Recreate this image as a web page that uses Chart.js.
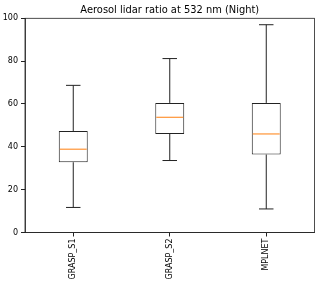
<!DOCTYPE html>
<html lang="en">
<head>
  <meta charset="UTF-8">
  <title>Aerosol lidar ratio at 532 nm (Night)</title>
  <style>
    body { margin: 0; background: #fff; }
  </style>
</head>
<body>
  <canvas id="boxChart" width="320" height="285"></canvas>

  <script src="https://cdn.jsdelivr.net/npm/chart.js"></script>
  <script>
    const categories = ['GRASP_S1', 'GRASP_S2', 'MPLNET'];
    const whiskerLow = [11.7, 33.6, 11.0];
    const q1 = [32.8, 46.0, 36.4];
    const median = [38.9, 53.8, 46.0];
    const q3 = [47.4, 60.5, 60.5];
    const whiskerHigh = [68.7, 81.2, 97.0];
    const yTicks = [0, 20, 40, 60, 80, 100];
    const titleText = 'Aerosol lidar ratio at 532 nm (Night)';

    const font = "'DejaVu Sans', sans-serif";

    // whiskers, caps, medians, frame and a title centred over the axes
    const boxExtras = {
      id: 'boxExtras',
      afterDatasetsDraw(chart) {
        const c = chart.ctx;
        const x = chart.scales.x, y = chart.scales.y;
        const meta = chart.getDatasetMeta(0);
        c.save();
        categories.forEach((cat, i) => {
          const bar = meta.data[i];
          const cx = x.getPixelForValue(i);
          const half = bar.width / 2;
          const cap = half / 2;
          c.strokeStyle = '#222';
          c.lineWidth = 1;
          c.beginPath();
          c.moveTo(cx, y.getPixelForValue(q3[i]));
          c.lineTo(cx, y.getPixelForValue(whiskerHigh[i]));
          c.moveTo(cx, y.getPixelForValue(q1[i]));
          c.lineTo(cx, y.getPixelForValue(whiskerLow[i]));
          c.moveTo(cx - cap, y.getPixelForValue(whiskerHigh[i]));
          c.lineTo(cx + cap, y.getPixelForValue(whiskerHigh[i]));
          c.moveTo(cx - cap, y.getPixelForValue(whiskerLow[i]));
          c.lineTo(cx + cap, y.getPixelForValue(whiskerLow[i]));
          c.stroke();
          c.strokeStyle = '#ff7f0e';
          c.beginPath();
          c.moveTo(cx - half + 1, y.getPixelForValue(median[i]));
          c.lineTo(cx + half - 1, y.getPixelForValue(median[i]));
          c.stroke();
        });
        const a = chart.chartArea;
        c.strokeStyle = '#222';
        c.lineWidth = 0.8;
        c.strokeRect(a.left, a.top, a.right - a.left, a.bottom - a.top);

        c.fillStyle = '#000';
        c.font = '9.9px ' + font;
        c.textAlign = 'center';
        c.textBaseline = 'alphabetic';
        c.fillText(titleText, (a.left + a.right) / 2, a.top - 5);
        c.restore();
      }
    };

    const ctx = document.getElementById('boxChart').getContext('2d');
    new Chart(ctx, {
      type: 'bar',
      data: {
        labels: categories,
        datasets: [{
          data: categories.map((c, i) => [q1[i], q3[i]]),
          backgroundColor: '#ffffff',
          borderColor: '#222',
          borderWidth: 1,
          borderSkipped: false,
          barPercentage: 0.3,
          categoryPercentage: 1
        }]
      },
      options: {
        responsive: false,
        animation: false,
        devicePixelRatio: 1,
        layout: { padding: { left: 0, right: 5.5, top: 18.3, bottom: 0 } },
        plugins: {
          legend: { display: false },
          tooltip: { enabled: false },
          title: { display: false }
        },
        scales: {
          x: {
            offset: true,
            grid: { display: true, offset: false, drawOnChartArea: false, drawTicks: true, tickLength: 4, color: '#222' },
            border: { display: true, color: '#222', width: 0.8 },
            ticks: {
              color: '#000',
              font: { family: font, size: 8 },
              minRotation: 90,
              maxRotation: 90,
              padding: 2
            },
            afterFit(scale) { scale.height = 52.5; }
          },
          y: {
            min: 0,
            max: 100,
            afterBuildTicks(scale) { scale.ticks = yTicks.map(v => ({ value: v })); },
            grid: { display: true, drawOnChartArea: false, drawTicks: true, tickLength: 4, color: '#222' },
            border: { display: true, color: '#222', width: 0.8 },
            ticks: {
              color: '#000',
              font: { family: font, size: 8 },
              padding: 3
            },
            afterFit(scale) { scale.width = 25; }
          }
        }
      },
      plugins: [boxExtras]
    });
  </script>
</body>
</html>
